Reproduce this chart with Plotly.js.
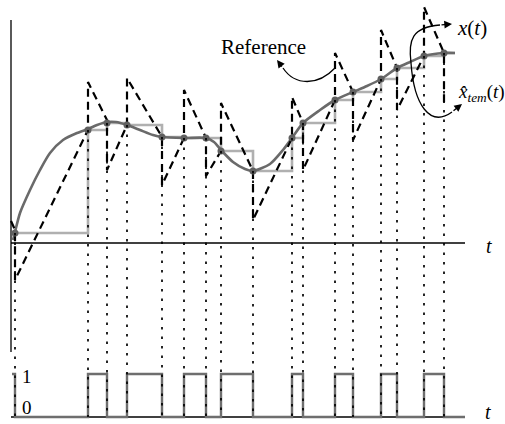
<!DOCTYPE html>
<html>
<head>
<meta charset="utf-8">
<script src="https://cdn.plot.ly/plotly-3.0.1.min.js"></script>
<style>html,body{margin:0;padding:0;background:#fff;}#chart{width:505px;height:424px;}</style>
</head>
<body>
<div id="chart"></div>
<script>
// ---- data (t in time units, x in signal units) ----
const tSample = [0.4, 7.7, 9.6, 11.6, 15.1, 17.3, 19.5, 21.0, 24.2, 28.1, 29.2, 32.4, 34.2, 37.0, 38.6, 41.3, 43.3];
const xSample = [1.0, 11.3, 12.0, 11.8, 10.6, 10.5, 10.5, 9.2, 7.2, 10.5, 12.0, 14.3, 15.1, 16.4, 17.5, 18.7, 19.0];

const tCurve = [0.2, 0.4, 0.9, 1.9, 2.9, 3.9, 5.2, 6.6, 7.7, 8.6, 9.6, 10.5, 11.6, 12.9, 14.2, 15.1, 17.3, 19.5, 20.3, 21.0, 22.2, 23.4, 24.2, 25.9, 27.2, 28.1, 29.2, 30.9, 32.4, 34.2, 35.6, 37.0, 38.6, 39.9, 41.3, 43.3, 44.4];
const xCurve = [0.3, 1.1, 3.0, 5.3, 7.3, 9.0, 10.3, 11.0, 11.4, 11.8, 12.1, 12.1, 11.8, 11.3, 10.8, 10.6, 10.5, 10.5, 10.1, 9.3, 8.1, 7.4, 7.2, 7.9, 9.3, 10.5, 12.0, 13.3, 14.3, 15.1, 15.7, 16.4, 17.5, 18.1, 18.7, 19.0, 19.0];

const tEst = [0.0, 0.4, 0.4, 7.7, 7.7, 9.6, 9.6, 11.6, 11.6, 15.1, 15.1, 17.3, 17.3, 19.5, 19.5, 21.0, 21.0, 24.2, 24.2, 28.1, 28.1, 29.2, 29.2, 32.4, 32.4, 34.2, 34.2, 37.0, 37.0, 38.6, 38.6, 41.3, 41.3, 43.3, 43.3];
const xEst = [2.2, 1.3, -3.7, 11.3, 16.1, 12.3, 7.3, 11.8, 16.5, 10.6, 5.8, 10.5, 15.3, 10.5, 6.7, 9.2, 14.0, 7.2, 2.3, 10.5, 14.6, 12.0, 7.3, 14.3, 19.0, 15.1, 10.3, 16.4, 21.3, 17.5, 13.3, 18.7, 23.6, 19.0, 14.0];

const tRefEnd = 44.4;
const xRefEnd = 19.0;

const tPulse = [0.1, 0.4, 7.7, 9.6, 11.6, 15.1, 17.3, 19.5, 21.0, 24.2, 28.1, 29.2, 32.4, 34.2, 37.0, 38.6, 41.3, 43.3, 45.4];
const pulse  = [1, 0, 1, 0, 1, 0, 1, 0, 1, 0, 1, 0, 1, 0, 1, 0, 1, 0, 0];

// ---- layout geometry ----
const W = 505, H = 424;
const xRange = [-1.1, 49.4];
const yRange = [-18.1, 24.3];
const y2Range = [-0.1628, 9.698];
function toY2(v) {
  const py = H * (yRange[1] - v) / (yRange[1] - yRange[0]);
  return y2Range[1] - py * (y2Range[1] - y2Range[0]) / H;
}

const dotX = [], dotY = [];
tSample.forEach((t, k) => { dotX.push(t, t, null); dotY.push(toY2(xSample[k]), 0, null); });

const serif = 'Liberation Serif, Times New Roman, serif';

const traces = [
  { x: tSample.concat([tRefEnd]), y: xSample.concat([xRefEnd]), mode: 'lines', line: { color: '#b0b0b0', width: 2.6, shape: 'hv' }, hoverinfo: 'skip' },
  { x: tCurve, y: xCurve, mode: 'lines', line: { color: '#6a6a6a', width: 2.6, shape: 'spline', smoothing: 0.7 }, hoverinfo: 'skip' },
  { x: tEst, y: xEst, mode: 'lines', line: { color: '#000', width: 2.2, dash: '8px,5px' }, hoverinfo: 'skip' },
  { x: tSample, y: xSample, mode: 'markers', marker: { color: '#606060', size: 7 }, hoverinfo: 'skip' },
  { x: tPulse, y: pulse, yaxis: 'y2', mode: 'lines', line: { color: '#6e6e6e', width: 2.4, shape: 'hv' }, hoverinfo: 'skip' },
  { x: dotX, y: dotY, yaxis: 'y2', mode: 'lines', line: { color: '#000', width: 1.7, dash: '2.5px,7px' }, hoverinfo: 'skip' }
];

const ann = (x, y, text, opts) => Object.assign({ x, y, xref: 'x', yref: 'y', text, showarrow: false, font: { family: serif, size: 20, color: '#000' }, xanchor: 'center', yanchor: 'middle' }, opts || {});
const head = (x, y, ax, ay) => ({ x, y, xref: 'x', yref: 'y', text: '', showarrow: true, ax, ay, arrowhead: 2, arrowsize: 1.1, arrowwidth: 1.4, arrowcolor: '#000' });

const layout = {
  width: W, height: H,
  margin: { l: 0, r: 0, t: 0, b: 0 },
  paper_bgcolor: '#fff', plot_bgcolor: '#fff',
  showlegend: false,
  xaxis: { range: xRange, visible: false, fixedrange: true },
  yaxis: { range: yRange, visible: false, fixedrange: true },
  yaxis2: { range: y2Range, visible: false, overlaying: 'y', fixedrange: true },
  shapes: [
    { type: 'line', xref: 'x', yref: 'y', x0: 0, x1: 45.4, y0: 0, y1: 0, line: { color: '#000', width: 1.3 }, layer: 'below' },
    { type: 'line', xref: 'x', yref: 'y', x0: 0, x1: 0, y0: 22.3, y1: -10.9, line: { color: '#000', width: 1.3 }, layer: 'below' },
    { type: 'line', xref: 'x', yref: 'y2', x0: 0, x1: 45.4, y0: 0, y1: 0, line: { color: '#000', width: 1.3 }, layer: 'below' },
    { type: 'path', xref: 'x', yref: 'y', path: 'M 32.4,17.5 C 30.7,15.7 28.4,15.7 27.2,17.5', line: { color: '#000', width: 1.3 } },
    { type: 'path', xref: 'x', yref: 'y', path: 'M 40.0,18.0 C 39.7,20.3 40.1,21.6 42.9,21.8', line: { color: '#000', width: 1.3 } },
    { type: 'path', xref: 'x', yref: 'y', path: 'M 40.0,18.0 C 40.3,13.8 41.9,11.5 44.1,13.1', line: { color: '#000', width: 1.3 } }
  ],
  annotations: [
    ann(25.2, 19.6, 'Reference', { font: { family: serif, size: 21, color: '#000' } }),
    ann(44.4, 21.5, '<i>x</i>(<i>t</i>)', { xanchor: 'left', font: { family: serif, size: 21, color: '#000' } }),
    ann(44.5, 15.0, '<i>x̂</i><sub><i>tem</i></sub>(<i>t</i>)', { xanchor: 'left', font: { family: serif, size: 19, color: '#000' } }),
    ann(47.8, -0.3, '<i>t</i>'),
    ann(47.7, 0.12, '<i>t</i>', { yref: 'y2' }),
    ann(1.6, 0.95, '1', { yref: 'y2', font: { family: serif, size: 19, color: '#000' } }),
    ann(1.6, 0.21, '0', { yref: 'y2', font: { family: serif, size: 19, color: '#000' } }),
    head(26.6, 18.3, 6, 8),
    head(44.1, 21.9, -12, 1),
    head(45.1, 13.9, -10, 8)
  ]
};

Plotly.newPlot('chart', traces, layout, { staticPlot: true, displayModeBar: false });
</script>
</body>
</html>
